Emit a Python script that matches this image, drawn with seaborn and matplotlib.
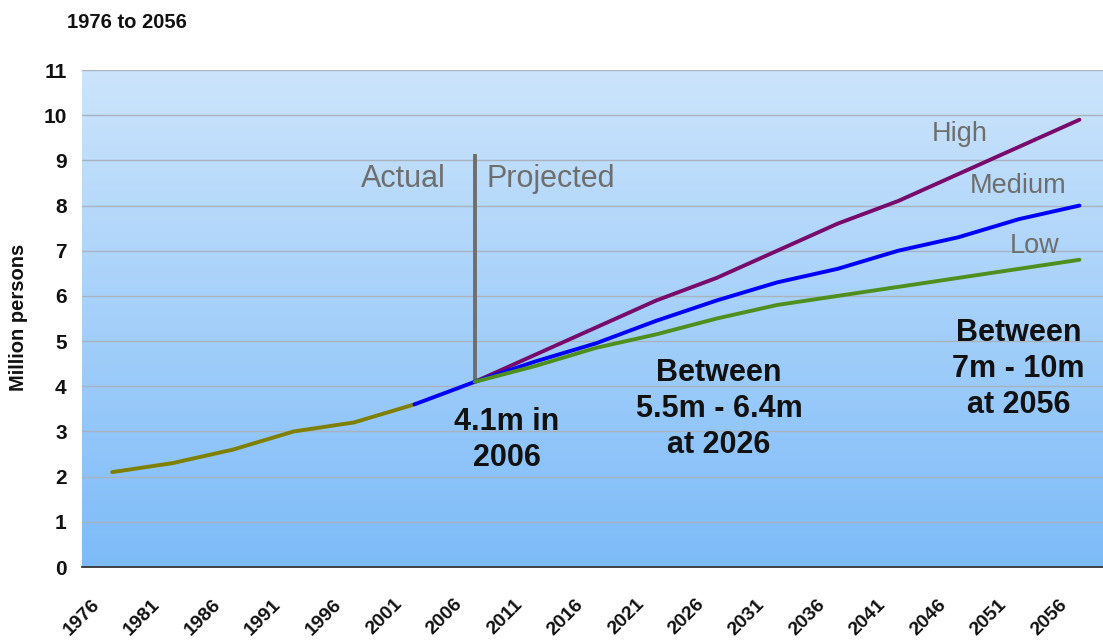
import numpy as np
import pandas as pd
import matplotlib
matplotlib.use("Agg")
import matplotlib.pyplot as plt
from matplotlib.transforms import ScaledTranslation
import seaborn as sns

# Population, million persons, at five-year steps
years = [1976, 1981, 1986, 1991, 1996, 2001, 2006, 2011, 2016, 2021,
         2026, 2031, 2036, 2041, 2046, 2051, 2056]

actual_years = [1976, 1981, 1986, 1991, 1996, 2001]
actual = [2.1, 2.3, 2.6, 3.0, 3.2, 3.6]

medium_years = [2001, 2006, 2011, 2016, 2021, 2026, 2031, 2036, 2041, 2046, 2051, 2056]
medium = [3.6, 4.1, 4.55, 4.95, 5.45, 5.9, 6.3, 6.6, 7.0, 7.3, 7.7, 8.0]

proj_years = [2006, 2011, 2016, 2021, 2026, 2031, 2036, 2041, 2046, 2051, 2056]
high = [4.1, 4.7, 5.3, 5.9, 6.4, 7.0, 7.6, 8.1, 8.7, 9.3, 9.9]
low = [4.1, 4.45, 4.85, 5.15, 5.5, 5.8, 6.0, 6.2, 6.4, 6.6, 6.8]

series_order = ["Actual", "High", "Medium", "Low"]
series_colors = {"Actual": "#808000", "High": "#780A6C",
                 "Medium": "#0000FF", "Low": "#4E8F1E"}


def frame(name, yrs, vals):
    return pd.DataFrame({"pos": [years.index(y) for y in yrs],
                         "value": vals, "series": name})


df = pd.concat([frame("Actual", actual_years, actual),
                frame("High", proj_years, high),
                frame("Medium", medium_years, medium),
                frame("Low", proj_years, low)], ignore_index=True)

sns.set_style("white")
plt.rcParams["font.family"] = ["Liberation Sans", "DejaVu Sans"]

fig = plt.figure(figsize=(11.03, 6.42), dpi=100)
ax = fig.add_axes([0.0743, 0.1168, 0.9257, 0.7741])

x_lo, x_hi = -0.5, 16.39
y_lo, y_hi = 0, 11

# vertical light-to-deeper blue background
grad = np.linspace(0, 1, 256)[:, None]
top = np.array([0.80, 0.895, 0.985])
bottom = np.array([0.49, 0.735, 0.975])
img = top[None, None, :] * (1 - grad[..., None]) + bottom[None, None, :] * grad[..., None]
ax.imshow(img, extent=[x_lo, x_hi, y_lo, y_hi], aspect="auto",
          origin="upper", zorder=-2, interpolation="bilinear")

ax.yaxis.grid(True, color="#A9B3BD", linewidth=1.0, zorder=-1)
ax.xaxis.grid(False)
ax.set_axisbelow(True)

sns.lineplot(data=df, x="pos", y="value", hue="series", hue_order=series_order,
             palette=series_colors, linewidth=2.8, legend=False, sort=False,
             estimator=None, ax=ax, zorder=3)

# divider between actual and projected figures
ax.plot([years.index(2006), years.index(2006)], [4.1, 9.15],
        color="#6E6E6E", linewidth=2.8, zorder=2, solid_capstyle="butt")

ax.set_xlim(x_lo, x_hi)
ax.set_ylim(y_lo, y_hi)
ax.set_xlabel("")
ax.set_ylabel("")

for side in ["top", "right", "left"]:
    ax.spines[side].set_visible(False)
ax.spines["bottom"].set_color("#333333")
ax.spines["bottom"].set_linewidth(1.3)

ax.set_yticks(range(0, 12))
ax.set_yticklabels([str(v) for v in range(0, 12)], fontsize=15, fontweight="bold")
ax.tick_params(axis="y", length=0, pad=11, labelcolor="#111111")

ax.set_xticks(range(len(years)))
ax.set_xticklabels([str(y) for y in years], fontsize=14, fontweight="bold",
                   rotation=45, ha="right", va="center", rotation_mode="anchor")
ax.set_xticks(np.arange(-0.5, 16.0, 1.0), minor=True)
ax.tick_params(axis="x", which="major", length=0, pad=25, labelcolor="#111111")
ax.tick_params(axis="x", which="minor", length=4, width=1.2, color="#333333",
               direction="out")
shift = ScaledTranslation(-0.15, 0, fig.dpi_scale_trans)
for lab in ax.get_xticklabels():
    lab.set_transform(lab.get_transform() + shift)

gray = "#6E6E6E"
ax.text(5.52, 8.41, "Actual", color=gray, fontsize=22, ha="right", va="baseline")
ax.text(6.20, 8.41, "Projected", color=gray, fontsize=22, ha="left", va="baseline")
ax.text(13.55, 9.43, "High", color=gray, fontsize=19.5, ha="left", va="baseline")
ax.text(14.19, 8.27, "Medium", color=gray, fontsize=19.5, ha="left", va="baseline")
ax.text(14.85, 6.95, "Low", color=gray, fontsize=19.5, ha="left", va="baseline")

bold_kw = dict(fontsize=22, fontweight="bold", color="#111111",
               ha="center", va="center", linespacing=1.25, multialignment="center")
ax.text(6.53, 2.81, "4.1m in\n2006", **bold_kw)
ax.text(10.04, 3.50, "Between\n5.5m - 6.4m\nat 2026", **bold_kw)
ax.text(14.99, 4.38, "Between\n7m - 10m\nat 2056", **bold_kw)

fig.text(67 / 1103, 1 - 23 / 642, "1976 to 2056", fontsize=14.5,
         fontweight="bold", ha="left", va="center", color="#111111")
fig.text(19 / 1103, 1 - 317 / 642, "Million persons", fontsize=14.5,
         fontweight="bold", rotation=90, ha="center", va="center", color="#111111")

fig.savefig("out.png", dpi=100, facecolor="white")
